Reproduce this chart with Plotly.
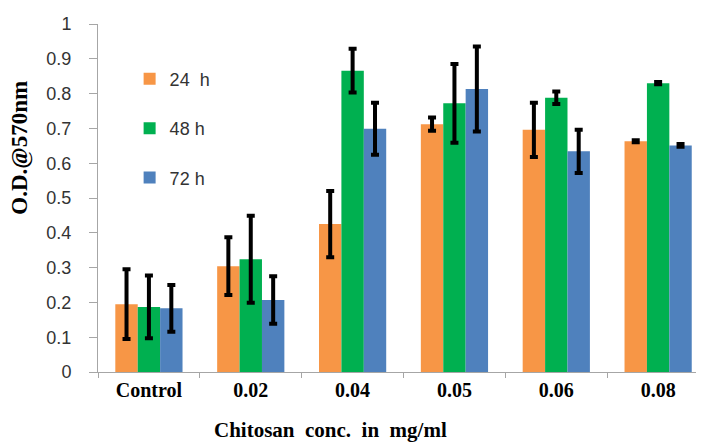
import plotly.graph_objects as go

categories = ["Control", "0.02", "0.04", "0.05", "0.06", "0.08"]
series_names = ["24  h", "48 h", "72 h"]
colors = ["#F79646", "#00B050", "#4F81BD"]

od_24h = [0.195, 0.304, 0.425, 0.712, 0.696, 0.663]
od_48h = [0.187, 0.324, 0.866, 0.772, 0.788, 0.830]
od_72h = [0.183, 0.207, 0.699, 0.813, 0.634, 0.651]

err_24h = [0.100, 0.083, 0.095, 0.019, 0.078, 0.003]
err_48h = [0.090, 0.125, 0.063, 0.113, 0.018, 0.003]
err_72h = [0.067, 0.068, 0.075, 0.122, 0.062, 0.004]

values = [od_24h, od_48h, od_72h]
errors = [err_24h, err_48h, err_72h]

y_ticks = [0, 0.1, 0.2, 0.3, 0.4, 0.5, 0.6, 0.7, 0.8, 0.9, 1]
y_tick_text = ["0", "0.1", "0.2", "0.3", "0.4", "0.5", "0.6", "0.7", "0.8", "0.9", "1"]

fig = go.Figure()
for i, name in enumerate(series_names):
    fig.add_trace(go.Bar(
        x=categories, y=values[i], name=name,
        marker=dict(color=colors[i], line=dict(width=0)),
        legendgroup=name,
        error_y=dict(type="data", array=errors[i], visible=True,
                     color="black", thickness=4, width=4),
    ))

serif = "Liberation Serif, Times New Roman, serif"
sans = "Liberation Sans, Arial, sans-serif"

fig.update_layout(
    width=704, height=445,
    margin=dict(l=90, r=6, t=16, b=81),
    paper_bgcolor="white", plot_bgcolor="white",
    barmode="group", bargap=0.34, bargroupgap=0,
    showlegend=True,
    legend=dict(x=0.052, y=0.895, xanchor="left", yanchor="top",
                font=dict(family=sans, size=18, color="#333333"),
                bgcolor="rgba(0,0,0,0)", tracegroupgap=23,
                traceorder="grouped"),
    xaxis=dict(type="category", range=[-0.5, 5.47],
               showline=True, linecolor="#a6a6a6", linewidth=1,
               ticks="outside", ticklen=5, tickcolor="#a6a6a6",
               tickson="boundaries", showgrid=False, zeroline=False,
               tickfont=dict(family=serif, size=20, color="black", weight="bold"),
               ticklabelstandoff=0),
    yaxis=dict(range=[0, 1], tickvals=y_ticks, ticktext=y_tick_text,
               showline=True, linecolor="#a6a6a6", linewidth=1,
               ticks="outside", ticklen=8, tickcolor="#a6a6a6",
               showgrid=False, zeroline=False,
               tickfont=dict(family=sans, size=18, color="#333333"),
               ticklabelstandoff=14),
    annotations=[
        dict(text="<b>O.D.@570nm</b>", xref="paper", yref="paper",
             x=-0.1287, y=0.644, xanchor="center", yanchor="middle",
             textangle=-90, showarrow=False,
             font=dict(family=serif, size=23, color="black")),
        dict(text="<b>Chitosan  conc.  in  mg/ml</b>", xref="paper", yref="paper",
             x=0.383, y=-0.168, xanchor="center", yanchor="middle",
             showarrow=False, borderpad=0,
             font=dict(family=serif, size=21, color="black")),
    ],
)

fig.write_html("out.html")
